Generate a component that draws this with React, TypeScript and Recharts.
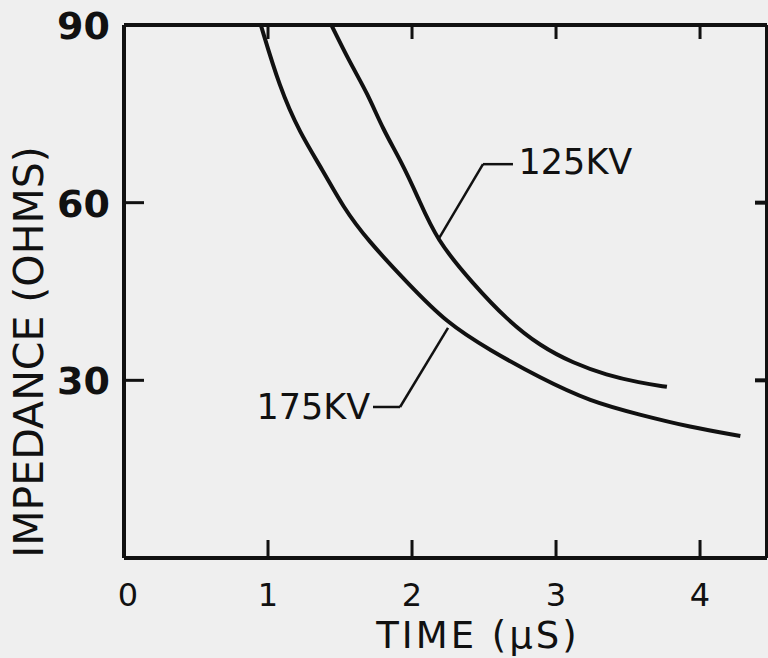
import React from 'react';
import { LineChart, Line, XAxis, YAxis, ReferenceLine, ReferenceDot } from 'recharts';

// tick values
const timeTicks = [0, 1, 2, 3, 4];
const innerTimeTicks = [1, 2, 3, 4];
const impedanceTicks = [30, 60, 90];
const innerImpedanceTicks = [30, 60];

// 175 KV curve (time in µs, impedance in ohms)
const kv175Time = [0.95, 1.08, 1.22, 1.38, 1.52, 1.69, 1.97, 2.24, 2.54, 2.89, 3.24, 3.58, 3.93, 4.28];
const kv175Imp = [90, 79.5, 71.8, 65.5, 59.3, 53.7, 46.4, 39.7, 35.1, 30.4, 26.4, 24.2, 22.1, 20.6];

// 125 KV curve
const kv125Time = [1.44, 1.57, 1.69, 1.8, 1.92, 2.04, 2.17, 2.42, 2.66, 2.89, 3.12, 3.35, 3.58, 3.77];
const kv125Imp = [90, 83.6, 78.5, 72.3, 67.2, 61.0, 53.7, 46.4, 40.2, 35.8, 32.9, 30.9, 29.6, 28.9];

const kv175 = kv175Time.map((t, i) => ({ t, z: kv175Imp[i] }));
const kv125 = kv125Time.map((t, i) => ({ t, z: kv125Imp[i] }));

const ink = '#111';
const font = '"DejaVu Sans", sans-serif';

const BottomTick = ({ x, y, payload }: any) => (
    <g>
        {payload.value !== 0 && (
            <line x1={x} x2={x} y1={y} y2={y - 18} stroke={ink} strokeWidth={3} />
        )}
        <text x={x + (payload.value === 0 ? 4 : 0)} y={y + 48} textAnchor="middle" fontSize={32} fontFamily={font} fill={ink}>
            {payload.value}
        </text>
    </g>
);

const LeftTick = ({ x, y, payload }: any) => (
    <g>
        {payload.value !== 90 && (
            <line x1={x} x2={x + 20} y1={y} y2={y} stroke={ink} strokeWidth={3} />
        )}
        <text x={x - 14} y={y + 14} textAnchor="end" fontSize={38} fontWeight="bold" fontFamily={font} fill={ink}>
            {payload.value}
        </text>
    </g>
);

const TopTick = ({ x, y }: any) => (
    <line x1={x} x2={x} y1={y} y2={y + 14} stroke={ink} strokeWidth={3} />
);

const RightTick = ({ x, y }: any) => (
    <line x1={x} x2={x - 12} y1={y} y2={y} stroke={ink} strokeWidth={4} />
);

const TagText = (anchor: 'start' | 'end', text: string) => (props: any) => (
    <text x={props.cx} y={props.cy} textAnchor={anchor} fontSize={35} fontFamily={font} fill={ink}>
        {text}
    </text>
);

export default function App() {
    return (
        <div style={{ position: 'absolute', left: 0, top: 0, width: 768, height: 658, background: '#efefef' }}>
            <LineChart width={768} height={658} margin={{ top: 24, right: 0, bottom: 0, left: 0 }}>
                <XAxis
                    xAxisId={0}
                    type="number"
                    dataKey="t"
                    domain={[0, 4.465]}
                    ticks={timeTicks}
                    interval={0}
                    height={100}
                    tickSize={0}
                    tickMargin={0}
                    tickLine={false}
                    axisLine={{ stroke: ink, strokeWidth: 4 }}
                    tick={<BottomTick />}
                    allowDataOverflow
                    label={{
                        content: () => (
                            <text x={478} y={648} textAnchor="middle" fontSize={37} letterSpacing={3} fontFamily={font} fill={ink}>
                                TIME (μS)
                            </text>
                        ),
                    }}
                />
                <XAxis
                    xAxisId="top"
                    orientation="top"
                    type="number"
                    dataKey="t"
                    domain={[0, 4.465]}
                    ticks={innerTimeTicks}
                    interval={0}
                    height={1}
                    tickSize={0}
                    tickMargin={0}
                    tickLine={false}
                    axisLine={{ stroke: ink, strokeWidth: 4 }}
                    tick={<TopTick />}
                    allowDataOverflow
                />
                <YAxis
                    yAxisId={0}
                    type="number"
                    domain={[0, 90]}
                    ticks={impedanceTicks}
                    interval={0}
                    width={124}
                    tickSize={0}
                    tickMargin={0}
                    tickLine={false}
                    axisLine={{ stroke: ink, strokeWidth: 4 }}
                    tick={<LeftTick />}
                    allowDataOverflow
                    label={{
                        content: () => (
                            <text
                                x={43}
                                y={352}
                                transform="rotate(-90 43 352)"
                                textAnchor="middle"
                                fontSize={41}
                                fontFamily={font}
                                fill={ink}
                            >
                                IMPEDANCE (OHMS)
                            </text>
                        ),
                    }}
                />
                <YAxis
                    yAxisId="right"
                    orientation="right"
                    type="number"
                    domain={[0, 90]}
                    ticks={innerImpedanceTicks}
                    interval={0}
                    width={1}
                    tickSize={0}
                    tickMargin={0}
                    tickLine={false}
                    axisLine={{ stroke: ink, strokeWidth: 4 }}
                    tick={<RightTick />}
                    allowDataOverflow
                />
                <Line
                    data={kv175}
                    dataKey="z"
                    type="basis"
                    stroke={ink}
                    strokeWidth={4}
                    dot={false}
                    activeDot={false}
                    isAnimationActive={false}
                />
                <Line
                    data={kv125}
                    dataKey="z"
                    type="basis"
                    stroke={ink}
                    strokeWidth={4}
                    dot={false}
                    activeDot={false}
                    isAnimationActive={false}
                />
                {/* leader lines for the curve tags */}
                <ReferenceLine segment={[{ x: 2.181, y: 53.7 }, { x: 2.493, y: 66.5 }]} stroke={ink} strokeWidth={2.5} />
                <ReferenceLine segment={[{ x: 2.493, y: 66.5 }, { x: 2.701, y: 66.5 }]} stroke={ink} strokeWidth={2.5} />
                <ReferenceLine segment={[{ x: 2.25, y: 38.85 }, { x: 1.917, y: 25.5 }]} stroke={ink} strokeWidth={2.5} />
                <ReferenceLine segment={[{ x: 1.917, y: 25.5 }, { x: 1.729, y: 25.5 }]} stroke={ink} strokeWidth={2.5} />
                <ReferenceDot x={2.74} y={64.9} r={0} shape={TagText('start', '125KV')} />
                <ReferenceDot x={1.71} y={23.5} r={0} shape={TagText('end', '175KV')} />
            </LineChart>
        </div>
    );
}
